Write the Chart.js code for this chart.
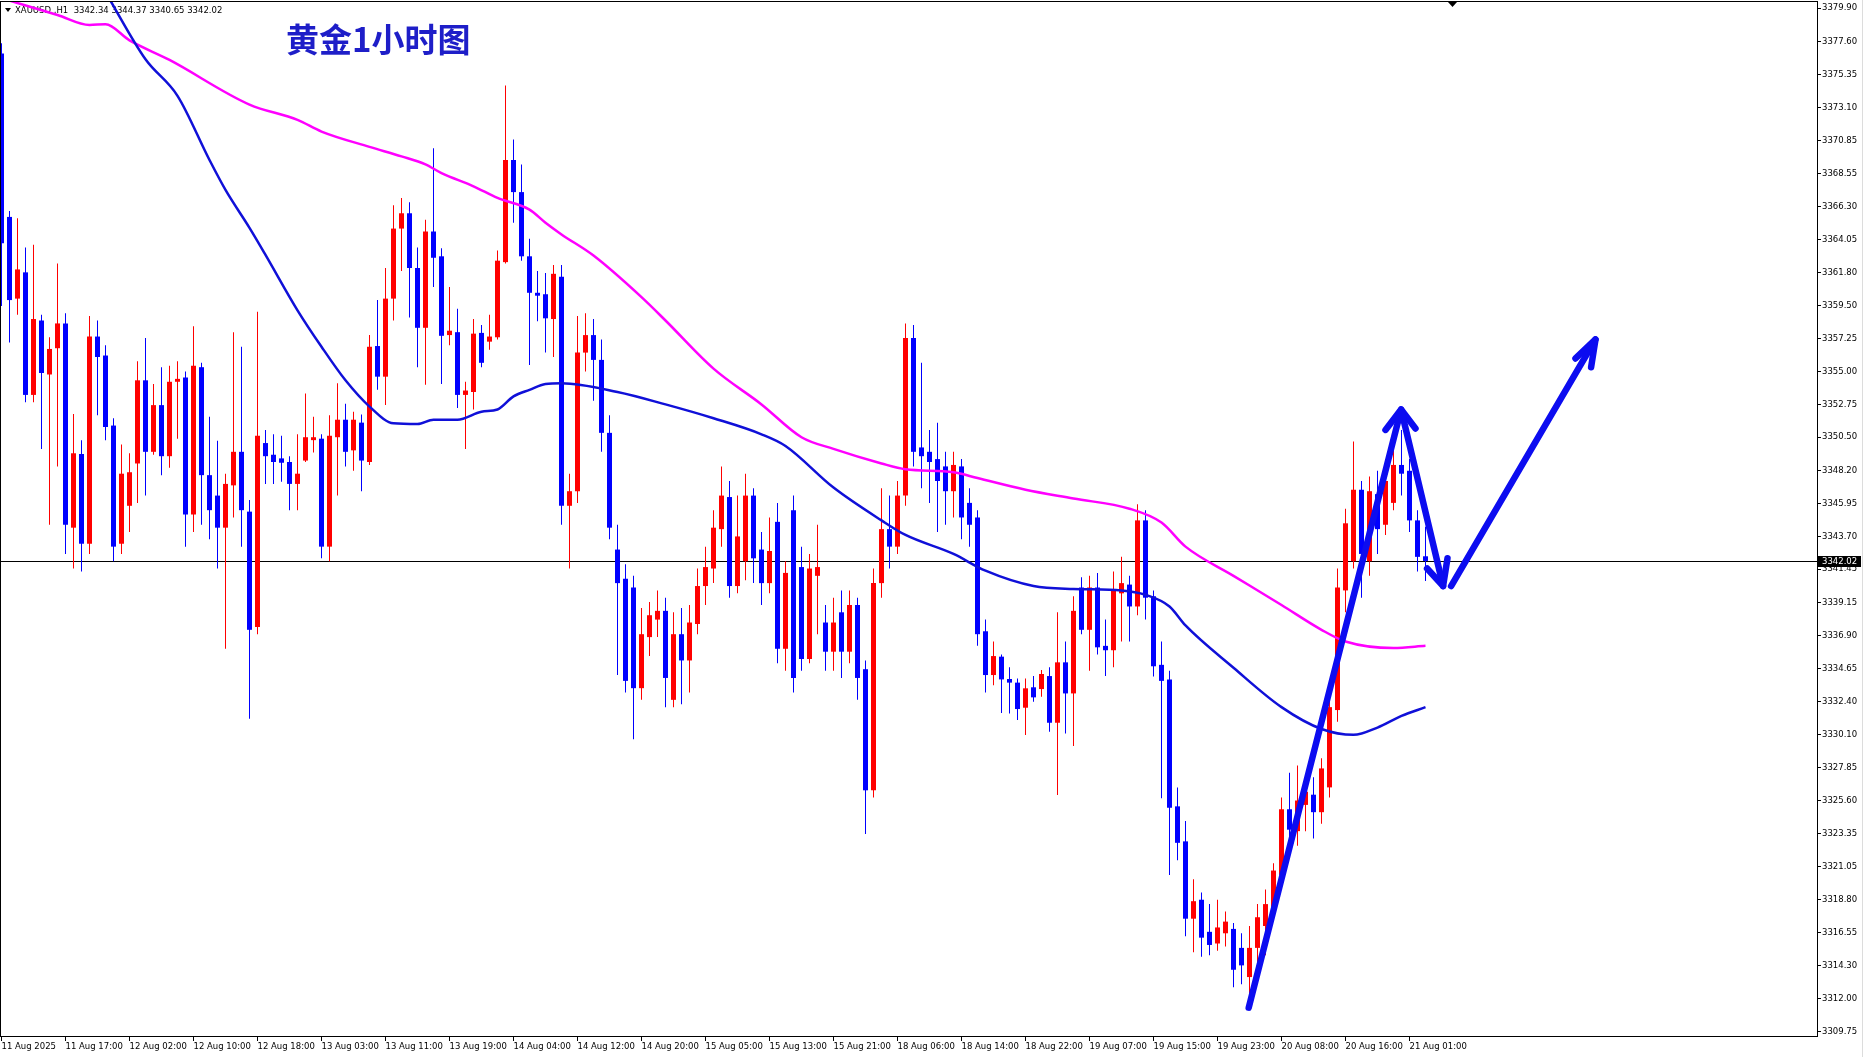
<!DOCTYPE html>
<html>
<head>
<meta charset="utf-8">
<title>黄金1小时图</title>
<script src="https://cdn.jsdelivr.net/npm/chart.js@4.4.1/dist/chart.umd.min.js"></script>
<style>
  html, body { margin: 0; padding: 0; background: #fff; }
  #chart { display: block; }
</style>
</head>
<body>
<canvas id="chart" width="1865" height="1057"></canvas>
<script>
// XAUUSD H1, one entry per bar (bar 0 = first visible bar)
const opens = [
  3376.8, 3365.6, 3360.0, 3361.8, 3353.4, 3358.5, 3354.8, 3356.6, 3358.3, 3344.3,
  3349.35, 3343.2, 3357.4, 3356.1, 3351.3, 3343.2, 3345.8, 3348.7, 3354.4, 3349.5,
  3352.7, 3349.2, 3354.3, 3354.6, 3345.2, 3355.3, 3347.9, 3346.5, 3344.3, 3347.2,
  3349.5, 3345.4, 3337.5, 3350.1, 3349.3, 3349.05, 3348.8, 3347.3, 3348.9, 3350.3,
  3350.4, 3343.0, 3350.5, 3351.7, 3349.6, 3351.5, 3348.8, 3356.75, 3354.65, 3360.0,
  3364.8, 3365.85, 3362.1, 3358.0, 3364.6, 3362.9, 3357.5, 3357.7, 3353.4, 3353.6,
  3357.65, 3357.05, 3357.35, 3362.5, 3369.5, 3367.3, 3362.9, 3360.4, 3360.3, 3358.6,
  3361.5, 3345.8, 3346.8, 3356.3, 3357.5, 3355.8, 3350.8, 3342.8, 3340.8, 3340.2,
  3333.3, 3336.8, 3338.0, 3338.6, 3332.5, 3337.0, 3335.2, 3337.7, 3340.3, 3341.5,
  3344.2, 3346.4, 3340.3, 3342.0, 3346.5, 3342.8, 3340.5, 3344.7, 3336.0, 3345.5,
  3341.6, 3335.3, 3341.0, 3337.8, 3335.8, 3338.5, 3335.8, 3339.0, 3334.6, 3326.3,
  3340.5, 3344.2, 3343.0, 3346.5, 3357.3, 3349.8, 3349.5, 3349.0, 3348.5, 3346.8,
  3348.5, 3346.0, 3345.0, 3337.2, 3334.2, 3335.46, 3333.93, 3333.68, 3331.96, 3333.36,
  3333.24, 3334.13, 3330.93, 3335.07, 3332.94, 3340.2, 3337.3, 3340.2, 3336.2, 3335.9,
  3339.8, 3340.4, 3338.9, 3344.8, 3339.6, 3334.9, 3333.9, 3325.2, 3322.8, 3317.5,
  3318.8, 3316.6, 3315.8, 3316.5, 3316.8, 3315.5, 3313.5, 3315.5, 3317.0, 3318.3,
  3320.5, 3325.0, 3323.5, 3325.3, 3326.0, 3324.8, 3326.5, 3331.8, 3340.0, 3342.0,
  3346.9, 3342.0, 3346.6, 3344.5, 3346.0, 3348.6, 3348.2, 3344.8, 3342.34
];
const highs = [
  3377.5, 3366.0, 3365.5, 3363.5, 3363.7, 3358.9, 3357.35, 3362.4, 3359.0, 3352.1,
  3350.3, 3358.8, 3358.5, 3356.8, 3351.8, 3350.0, 3349.4, 3355.7, 3357.3, 3354.15,
  3355.3, 3355.4, 3355.7, 3355.0, 3358.1, 3355.6, 3351.9, 3350.25, 3348.0, 3357.7,
  3356.7, 3346.2, 3359.1, 3351.0, 3350.7, 3350.6, 3349.2, 3350.7, 3353.5, 3351.9,
  3350.7, 3352.0, 3354.2, 3352.8, 3352.25, 3352.05, 3357.5, 3359.9, 3362.1, 3366.4,
  3366.9, 3366.6, 3363.5, 3365.4, 3370.3, 3363.45, 3360.8, 3359.3, 3354.3, 3358.6,
  3358.2, 3358.9, 3363.3, 3374.6, 3370.9, 3369.2, 3364.1, 3361.9, 3361.75, 3362.3,
  3362.3, 3348.0, 3358.8, 3359.0, 3358.6, 3357.2, 3352.0, 3344.5, 3341.8, 3341.0,
  3338.8, 3339.2, 3340.0, 3339.5, 3338.5, 3338.8, 3339.0, 3341.5, 3343.0, 3345.5,
  3348.5, 3347.5, 3346.5, 3348.0, 3347.0, 3344.0, 3345.0, 3346.0, 3342.0, 3346.5,
  3343.0, 3342.5, 3344.5, 3339.0, 3339.5, 3340.0, 3340.0, 3339.5, 3335.2, 3341.5,
  3347.0, 3346.5, 3347.5, 3358.3, 3358.2, 3355.6, 3351.0, 3351.5, 3349.5, 3349.5,
  3349.0, 3347.0, 3345.5, 3338.0, 3336.5, 3335.6, 3334.73, 3333.97, 3333.97, 3334.13,
  3334.54, 3334.73, 3338.5, 3336.5, 3339.6, 3340.9, 3341.0, 3341.2, 3338.0, 3341.3,
  3342.3, 3341.0, 3345.9, 3345.5, 3340.0, 3336.5, 3334.5, 3326.5, 3324.2, 3320.2,
  3319.3, 3318.5, 3318.8, 3318.0, 3317.2, 3316.5, 3317.0, 3318.5, 3319.5, 3321.3,
  3325.8, 3327.5, 3328.0, 3327.0, 3327.2, 3328.5, 3332.8, 3341.5, 3345.6, 3350.2,
  3347.5, 3347.8, 3348.2, 3349.0, 3349.9, 3351.0, 3349.0, 3345.5, 3344.37
];
const lows = [
  3359.5, 3357.0, 3358.9, 3352.9, 3352.9, 3349.7, 3344.5, 3348.5, 3342.5, 3341.5,
  3341.3, 3342.5, 3352.0, 3350.3, 3342.0, 3342.5, 3344.0, 3346.0, 3346.5, 3349.3,
  3347.9, 3348.4, 3350.4, 3343.0, 3344.0, 3344.5, 3343.5, 3341.5, 3336.0, 3345.0,
  3343.0, 3331.2, 3337.0, 3347.3, 3347.3, 3347.45, 3345.5, 3345.5, 3348.8, 3349.45,
  3342.2, 3342.0, 3346.5, 3348.5, 3348.2, 3346.8, 3348.6, 3353.75, 3352.7, 3358.5,
  3361.9, 3358.7, 3355.3, 3354.1, 3360.8, 3354.15, 3356.8, 3352.5, 3349.7, 3352.4,
  3355.3, 3356.5, 3357.2, 3362.4, 3365.2, 3362.6, 3355.45, 3358.45, 3356.3, 3356.0,
  3344.5, 3341.5, 3346.0, 3355.0, 3353.0, 3349.5, 3343.5, 3334.2, 3333.0, 3329.8,
  3332.5, 3335.5, 3336.8, 3332.0, 3332.0, 3332.2, 3333.0, 3337.0, 3339.0, 3340.5,
  3343.0, 3339.5, 3339.8, 3340.7, 3340.5, 3339.0, 3339.8, 3335.0, 3334.5, 3333.0,
  3334.5, 3335.0, 3337.0, 3334.5, 3334.5, 3334.0, 3335.0, 3332.5, 3323.3, 3325.8,
  3339.5, 3341.5, 3342.5, 3345.8, 3348.5, 3347.0, 3346.0, 3344.0, 3344.5, 3345.0,
  3343.5, 3343.0, 3336.2, 3333.0, 3333.5, 3331.6, 3331.57, 3331.12, 3330.09, 3332.37,
  3332.72, 3330.32, 3325.98, 3330.2, 3329.33, 3337.0, 3334.5, 3335.6, 3334.13, 3334.73,
  3336.5, 3336.5, 3338.3, 3338.0, 3334.1, 3325.75, 3320.5, 3321.5, 3316.3, 3315.2,
  3314.9, 3315.0, 3315.3, 3315.6, 3312.8, 3313.0, 3312.3, 3314.5, 3315.0, 3317.5,
  3319.8, 3322.3, 3322.5, 3323.5, 3323.0, 3324.0, 3325.8, 3331.0, 3338.5, 3341.5,
  3339.5, 3341.0, 3342.5, 3343.8, 3345.5, 3346.5, 3344.0, 3341.3, 3340.65
];
const closes = [
  3363.8, 3359.9, 3362.0, 3353.4, 3358.6, 3354.9, 3356.55, 3358.3, 3344.5, 3349.4,
  3343.2, 3357.4, 3356.0, 3351.2, 3343.0, 3348.0, 3348.1, 3354.4, 3349.5, 3352.7,
  3349.2, 3354.3, 3354.5, 3345.2, 3355.4, 3347.9, 3345.5, 3344.3, 3347.3, 3349.5,
  3345.5, 3337.3, 3350.6, 3349.2, 3348.8, 3348.75, 3347.3, 3348.0, 3350.5, 3350.5,
  3343.0, 3350.6, 3351.7, 3349.5, 3351.7, 3348.9, 3356.7, 3354.65, 3360.0, 3364.8,
  3365.85, 3362.1, 3358.0, 3364.6, 3362.8, 3357.45, 3357.8, 3353.4, 3353.7, 3357.6,
  3355.6, 3357.4, 3362.6, 3369.5, 3367.3, 3362.9, 3360.4, 3360.2, 3358.65, 3361.7,
  3345.8, 3346.8, 3356.3, 3357.5, 3355.8, 3350.8, 3344.3, 3340.5, 3333.8, 3333.3,
  3337.0, 3338.3, 3338.6, 3334.0, 3337.0, 3335.2, 3337.8, 3340.3, 3341.6, 3344.3,
  3346.5, 3340.3, 3343.7, 3346.5, 3342.2, 3340.5, 3342.7, 3336.0, 3341.2, 3334.0,
  3335.3, 3341.5, 3341.6, 3335.8, 3337.8, 3335.8, 3339.0, 3334.0, 3326.3, 3340.5,
  3344.2, 3343.0, 3346.5, 3357.3, 3349.5, 3349.2, 3348.8, 3347.5, 3346.8, 3348.6,
  3345.0, 3344.5, 3337.0, 3334.2, 3335.5, 3333.9, 3333.68, 3331.87, 3333.29, 3332.67,
  3334.27, 3330.93, 3335.07, 3332.94, 3338.6, 3337.3, 3340.2, 3336.1, 3335.9, 3340.0,
  3340.5, 3338.9, 3344.8, 3339.5, 3334.8, 3333.8, 3325.1, 3322.7, 3317.5, 3318.7,
  3316.2, 3315.7, 3316.9, 3317.3, 3314.0, 3314.3, 3315.5, 3317.6, 3318.5, 3320.8,
  3325.0, 3323.6, 3325.6, 3326.2, 3324.8, 3327.8, 3332.0, 3340.2, 3344.6, 3346.9,
  3342.5, 3346.8, 3344.2, 3347.5, 3348.6, 3348.0, 3344.8, 3342.3, 3342.02
];

// moving averages (bar index, price)
const maFastBars = [13, 18, 22, 26, 28, 31, 33, 37, 40, 43, 46, 49, 52, 54, 57, 60, 62, 64, 66, 68, 70,
  77, 83, 89, 95, 98, 104, 110, 113, 119, 123, 129, 134, 140, 143, 146, 148, 154, 160, 165, 169, 172, 175, 178];
const maFastVals = [3381.0, 3376.4, 3373.9, 3369.5, 3367.45, 3364.85, 3363.0, 3359.2, 3356.7, 3354.4, 3352.6,
  3351.45, 3351.4, 3351.7, 3351.7, 3352.25, 3352.4, 3353.3, 3353.75, 3354.15, 3354.2,
  3353.6, 3352.75, 3351.8, 3350.7, 3349.9, 3347.05, 3344.8, 3343.8, 3342.5, 3341.35, 3340.3, 3340.1,
  3340.0, 3339.7, 3338.9, 3337.6, 3334.7, 3332.0, 3330.5, 3330.1, 3330.6, 3331.4, 3332.0];
const maSlowBars = [0, 2, 7, 11, 13, 16, 21, 31, 37, 40, 46, 50, 53, 55, 59, 62, 66, 68, 70, 74, 80, 83, 89,
  95, 100, 104, 110, 113, 119, 122, 128, 134, 141, 145, 148, 154, 160, 165, 168, 174, 178];
const maSlowVals = [3380.6, 3380.26, 3379.44, 3378.76, 3378.8, 3377.7, 3376.36, 3373.3, 3372.25, 3371.45,
  3370.4, 3369.75, 3369.2, 3368.6, 3367.7, 3366.9, 3366.1, 3365.2, 3364.4, 3362.95, 3360.1, 3358.5, 3355.2,
  3352.75, 3350.5, 3349.7, 3348.7, 3348.3, 3348.1, 3347.7, 3346.9, 3346.3, 3345.6, 3344.65, 3343.0, 3341.0,
  3339.0, 3337.3, 3336.5, 3336.05, 3336.2];

// hand drawn forecast arrows (bar index, price)
const arrowUpDown = [[155.9, 3311.4], [174.95, 3352.4], [180.2, 3340.3]];
const arrowHeadTop = [[173.0, 3351.0], [174.95, 3352.4], [176.75, 3351.1]];
const arrowHeadLow = [[178.2, 3341.5], [180.2, 3340.3], [180.75, 3342.2]];
const arrowUp = [[181.2, 3340.3], [199.25, 3357.2]];
const arrowHeadEnd = [[196.75, 3355.9], [199.25, 3357.2], [198.7, 3355.3]];

const timeLabels = ['11 Aug 2025', '11 Aug 17:00', '12 Aug 02:00', '12 Aug 10:00', '12 Aug 18:00',
  '13 Aug 03:00', '13 Aug 11:00', '13 Aug 19:00', '14 Aug 04:00', '14 Aug 12:00', '14 Aug 20:00',
  '15 Aug 05:00', '15 Aug 13:00', '15 Aug 21:00', '18 Aug 06:00', '18 Aug 14:00', '18 Aug 22:00',
  '19 Aug 07:00', '19 Aug 15:00', '19 Aug 23:00', '20 Aug 08:00', '20 Aug 16:00', '21 Aug 01:00'];
const BARS_PER_LABEL = 8;
const priceTicks = [3379.90, 3377.60, 3375.35, 3373.10, 3370.85, 3368.55, 3366.30, 3364.05, 3361.80,
  3359.50, 3357.25, 3355.00, 3352.75, 3350.50, 3348.20, 3345.95, 3343.70, 3341.45, 3339.15, 3336.90,
  3334.65, 3332.40, 3330.10, 3327.85, 3325.60, 3323.35, 3321.05, 3318.80, 3316.55, 3314.30, 3312.00, 3309.75];

const Y_MIN = 3309.46, Y_MAX = 3380.33;
const X_MIN = -0.0625, X_MAX = X_MIN + 1816 / 8;

const UP = '#ff0000', DOWN = '#0000ff';
const ARROW = '#0c0cf0';
const last = closes.length - 1;
const lastPrice = closes[last];

Chart.defaults.font.family = "'DejaVu Sans', sans-serif";
Chart.defaults.font.size = 8.5;
Chart.defaults.color = '#000';

const candleColor = c => closes[c.dataIndex] >= opens[c.dataIndex] ? UP : DOWN;
const toPts = arr => arr.map(p => ({ x: p[0], y: p[1] }));
const arrowSet = arr => ({
  type: 'line', data: toPts(arr), borderColor: ARROW, borderWidth: 6.5, pointRadius: 0,
  borderCapStyle: 'round', borderJoinStyle: 'round', tension: 0, order: 0
});

const decor = {
  id: 'decor',
  beforeDatasetsDraw(chart) {
    const { ctx, chartArea: a, scales: { y } } = chart;
    ctx.save();
    const py = Math.round(y.getPixelForValue(lastPrice)) + 0.5;
    ctx.strokeStyle = '#000';
    ctx.lineWidth = 1;
    ctx.beginPath();
    ctx.moveTo(a.left, py);
    ctx.lineTo(a.right, py);
    ctx.stroke();

    ctx.fillStyle = '#000';
    ctx.beginPath();
    ctx.moveTo(5, 8); ctx.lineTo(11, 8); ctx.lineTo(8, 12);
    ctx.closePath();
    ctx.fill();
    ctx.font = "8.5px 'DejaVu Sans'";
    ctx.textBaseline = 'middle';
    const hdr = 'XAUUSD ,H1  ' + [opens[last], highs[last], lows[last], closes[last]].map(v => v.toFixed(2)).join(' ');
    ctx.fillText(hdr, 15, 11);
    ctx.restore();
  },
  afterDraw(chart) {
    const { ctx, chartArea: a, scales: { y } } = chart;
    ctx.save();
    ctx.strokeStyle = '#000';
    ctx.lineWidth = 1;
    ctx.strokeRect(a.left - 0.5, a.top - 0.5, a.right - a.left + 1, a.bottom - a.top + 1);

    ctx.fillStyle = '#dcdcdc';
    ctx.fillRect(1862, 0, 1, chart.height);

    // shift marker
    ctx.fillStyle = '#000';
    ctx.beginPath();
    ctx.moveTo(1448, 2); ctx.lineTo(1457, 2); ctx.lineTo(1452.5, 7);
    ctx.closePath();
    ctx.fill();

    // current price label
    const py = Math.round(y.getPixelForValue(lastPrice));
    ctx.fillStyle = '#000';
    ctx.fillRect(a.right + 1, py - 5, 43, 11);
    ctx.fillStyle = '#fff';
    ctx.font = "8.5px 'DejaVu Sans'";
    ctx.textBaseline = 'middle';
    ctx.fillText(lastPrice.toFixed(2), a.right + 5, py + 0.5);

    // title
    ctx.fillStyle = '#1e1ec8';
    ctx.font = "bold 33px 'Noto Sans CJK SC'";
    ctx.textBaseline = 'middle';
    ctx.fillText('黄金1小时图', 286, 39);
    ctx.restore();
  }
};

new Chart(document.getElementById('chart').getContext('2d'), {
  type: 'bar',
  data: {
    datasets: [
      arrowSet(arrowUpDown),
      arrowSet(arrowHeadTop),
      arrowSet(arrowHeadLow),
      arrowSet(arrowUp),
      arrowSet(arrowHeadEnd),
      {
        type: 'line', label: 'MA fast',
        data: maFastBars.map((b, k) => ({ x: b, y: maFastVals[k] })),
        borderColor: '#1010d8', borderWidth: 2.5, pointRadius: 0,
        cubicInterpolationMode: 'monotone', order: 1
      },
      {
        type: 'line', label: 'MA slow',
        data: maSlowBars.map((b, k) => ({ x: b, y: maSlowVals[k] })),
        borderColor: '#ff00ff', borderWidth: 2.5, pointRadius: 0,
        cubicInterpolationMode: 'monotone', order: 1
      },
      {
        label: 'body',
        data: opens.map((o, i) => ({ x: i, y: [o, closes[i]] })),
        backgroundColor: candleColor, barThickness: 5, minBarLength: 1,
        inflateAmount: 0, borderWidth: 0, grouped: false, order: 2
      },
      {
        label: 'wick',
        data: lows.map((l, i) => ({ x: i, y: [l, highs[i]] })),
        backgroundColor: candleColor, barThickness: 1,
        inflateAmount: 0, borderWidth: 0, grouped: false, order: 3
      }
    ]
  },
  options: {
    responsive: false,
    animation: false,
    devicePixelRatio: 1,
    events: [],
    layout: { padding: { left: 1, top: 2, right: 0, bottom: 0 } },
    plugins: { legend: { display: false }, tooltip: { enabled: false } },
    scales: {
      x: {
        type: 'linear', min: X_MIN, max: X_MAX, offset: false,
        afterBuildTicks: s => { s.ticks = timeLabels.map((_, k) => ({ value: k * BARS_PER_LABEL })); },
        afterFit: s => { s.height = 21; s.paddingLeft = 0; s.paddingRight = 0; },
        ticks: {
          callback: (v, i) => timeLabels[i], align: 'start', labelOffset: 0,
          maxRotation: 0, minRotation: 0, autoSkip: false, padding: 1, color: '#000'
        },
        grid: { drawOnChartArea: false, drawTicks: true, tickLength: 5, color: '#000', offset: false },
        border: { display: true, color: '#000' }
      },
      y: {
        type: 'linear', position: 'right', min: Y_MIN, max: Y_MAX,
        afterBuildTicks: s => { s.ticks = priceTicks.map(v => ({ value: v })); },
        afterFit: s => { s.width = 48; s.paddingTop = 0; s.paddingBottom = 0; },
        ticks: { callback: v => v.toFixed(2), autoSkip: false, padding: 1, color: '#000', crossAlign: 'near' },
        grid: { drawOnChartArea: false, drawTicks: true, tickLength: 4, color: '#000' },
        border: { display: true, color: '#000' }
      }
    }
  },
  plugins: [decor]
});
</script>
</body>
</html>
